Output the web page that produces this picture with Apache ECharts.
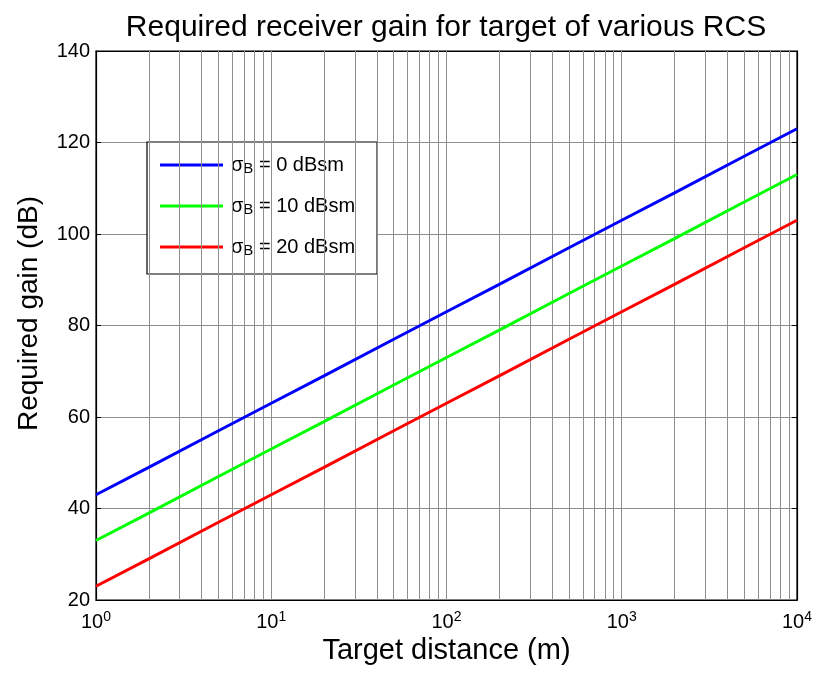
<!DOCTYPE html>
<html><head><meta charset="utf-8">
<script src="https://cdn.jsdelivr.net/npm/echarts@6/dist/echarts.min.js"></script>
<style>html,body{margin:0;padding:0;background:#fff}#c{width:815px;height:677px}</style>
</head><body><div id="c"></div>
<script>
const distances = [1, 2, 5, 10, 20, 50, 100, 200, 500, 1000, 2000, 5000, 10000];
const gain0dB  = [43, 49, 57, 63, 69, 77, 83, 89, 97, 103, 109, 117, 123];
const gain10dB = [33, 39, 47, 53, 59, 67, 73, 79, 87, 93, 99, 107, 113];
const gain20dB = [23, 29, 37, 43, 49, 57, 63, 69, 77, 83, 89, 97, 103];
const seriesNames = ['0', '10', '20'];
const minorGrid = [];
[1, 10, 100, 1000].forEach(d => { for (let k = 2; k <= 9; k++) minorGrid.push(d * k); });
minorGrid.push(10, 100, 1000);

const chart = echarts.init(document.getElementById('c'));
const font = 'Liberation Sans, Arial, sans-serif';
function mk(name, vals, color, withGrid) {
  const s = {
    name: name, type: 'line', showSymbol: false, symbol: 'none',
    data: distances.map((d, i) => [d, vals[i]]),
    lineStyle: { color: color, width: 3 }, itemStyle: { color: color }, z: 5
  };
  if (withGrid) {
    s.markLine = {
      silent: true, symbol: 'none', label: { show: false },
      lineStyle: { color: '#8f8f8f', type: 'solid', width: 1 },
      data: minorGrid.map(v => ({ xAxis: v }))
    };
  }
  return s;
}
const tickStyle = { show: true, inside: true, length: 5, lineStyle: { color: '#000' } };
chart.setOption({
  animation: false,
  backgroundColor: '#fff',
  title: {
    text: 'Required receiver gain for target of various RCS',
    left: 441, textAlign: 'center', top: 8,
    textStyle: { fontFamily: font, fontSize: 30, fontWeight: 'normal', color: '#000' }
  },
  grid: { left: 96, right: 17, top: 51, bottom: 77, show: true, borderColor: '#000', borderWidth: 1.2, backgroundColor: 'transparent' },
  legend: {
    orient: 'vertical', left: 147, top: 142,
    backgroundColor: '#fff', borderColor: '#000', borderWidth: 1.2,
    padding: [12, 22, 16, 13], itemGap: 19, itemWidth: 63, itemHeight: 3, icon: 'rect',
    formatter: n => 'σ{sub|B} = ' + n + ' dBsm',
    textStyle: {
      fontFamily: font, fontSize: 20, color: '#000', padding: [0, 0, 0, 3], lineHeight: 22,
      rich: { sub: { fontSize: 15, fontFamily: font, padding: [12, 0, 0, 0], verticalAlign: 'bottom' } }
    }
  },
  xAxis: [{
    type: 'log', logBase: 10, min: 1, max: 10000,
    name: 'Target distance (m)', nameLocation: 'middle', nameGap: 29,
    nameTextStyle: { fontFamily: font, fontSize: 29, color: '#000' },
    axisLine: { show: true, lineStyle: { color: '#000', width: 1.2 } },
    axisTick: tickStyle,
    axisLabel: {
      color: '#000', fontFamily: font, fontSize: 20, margin: 10,
      formatter: v => '10{sup|' + Math.round(Math.log10(v)) + '}',
      rich: { sup: { fontSize: 14, fontFamily: font, padding: [0, 0, 10, 0], verticalAlign: 'top' } }
    },
    splitLine: { show: false }
  }, {
    type: 'log', logBase: 10, min: 1, max: 10000, position: 'top',
    axisLine: { show: true, lineStyle: { color: '#000', width: 1.2 } },
    axisTick: tickStyle, axisLabel: { show: false }, splitLine: { show: false }
  }],
  yAxis: [{
    type: 'value', min: 20, max: 140, interval: 20,
    name: 'Required gain (dB)', nameLocation: 'middle', nameGap: 53, nameRotate: 90,
    nameTextStyle: { fontFamily: font, fontSize: 28, color: '#000', padding: [0, 0, 0, 24] },
    axisLine: { show: true, lineStyle: { color: '#000', width: 1.2 } },
    axisTick: tickStyle,
    axisLabel: { color: '#000', fontFamily: font, fontSize: 20, margin: 6 },
    splitLine: { show: true, lineStyle: { color: '#8f8f8f', width: 1 } }
  }, {
    type: 'value', min: 20, max: 140, interval: 20, position: 'right',
    axisLine: { show: true, lineStyle: { color: '#000', width: 1.2 } },
    axisTick: tickStyle, axisLabel: { show: false }, splitLine: { show: false }
  }],
  series: [
    mk(seriesNames[0], gain0dB, '#0000ff', true),
    mk(seriesNames[1], gain10dB, '#00ff00', false),
    mk(seriesNames[2], gain20dB, '#ff0000', false)
  ]
});
</script></body></html>
